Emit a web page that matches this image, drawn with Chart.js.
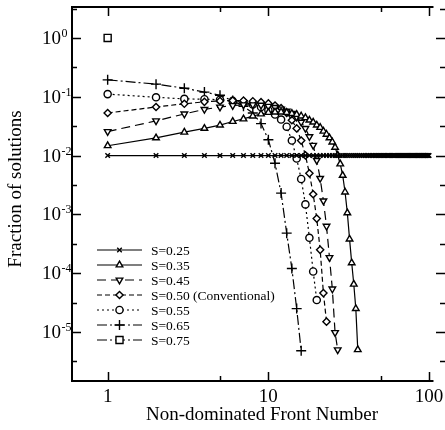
<!DOCTYPE html>
<html>
<head>
<meta charset="utf-8">
<script src="https://cdn.jsdelivr.net/npm/chart.js@4.4.0/dist/chart.umd.min.js"></script>
<style>
  html, body { margin: 0; padding: 0; background: #fff; }
</style>
</head>
<body>
<canvas id="chart" width="445" height="430"></canvas>
<script>
// Front numbers (x)
const fronts = [
  1, 2, 3, 4, 5, 6, 7, 8, 9, 10,
  11, 12, 13, 14, 15, 16, 17, 18, 19, 20,
  21, 22, 23, 24, 25, 26, 27, 28, 29, 30,
  31, 32, 33, 34, 35, 36, 37, 38, 39, 40,
  41, 42, 43, 44, 45, 46, 47, 48, 49, 50,
  51, 52, 53, 54, 55, 56, 57, 58, 59, 60,
  61, 62, 63, 64, 65, 66, 67, 68, 69, 70,
  71, 72, 73, 74, 75, 76, 77, 78, 79, 80,
  81, 82, 83, 84, 85, 86, 87, 88, 89, 90,
  91, 92, 93, 94, 95, 96, 97, 98, 99, 100
];

// Fraction of solutions in each front, one array per S
const s025 = [
  0.01, 0.01, 0.01, 0.01, 0.01, 0.01, 0.01, 0.01, 0.01, 0.01,
  0.01, 0.01, 0.01, 0.01, 0.01, 0.01, 0.01, 0.01, 0.01, 0.01,
  0.01, 0.01, 0.01, 0.01, 0.01, 0.01, 0.01, 0.01, 0.01, 0.01,
  0.01, 0.01, 0.01, 0.01, 0.01, 0.01, 0.01, 0.01, 0.01, 0.01,
  0.01, 0.01, 0.01, 0.01, 0.01, 0.01, 0.01, 0.01, 0.01, 0.01,
  0.01, 0.01, 0.01, 0.01, 0.01, 0.01, 0.01, 0.01, 0.01, 0.01,
  0.01, 0.01, 0.01, 0.01, 0.01, 0.01, 0.01, 0.01, 0.01, 0.01,
  0.01, 0.01, 0.01, 0.01, 0.01, 0.01, 0.01, 0.01, 0.01, 0.01,
  0.01, 0.01, 0.01, 0.01, 0.01, 0.01, 0.01, 0.01, 0.01, 0.01,
  0.01, 0.01, 0.01, 0.01, 0.01, 0.01, 0.01, 0.01, 0.01, 0.01
];
const s035 = [
  0.0147, 0.020, 0.025, 0.029, 0.033, 0.038, 0.042, 0.047, 0.051, 0.054,
  0.055, 0.055, 0.054, 0.052, 0.050, 0.047, 0.044, 0.040, 0.037, 0.033,
  0.030, 0.026, 0.023, 0.020, 0.017, 0.0138, 0.0102, 0.0072, 0.0046, 0.0024,
  0.00106, 0.00038, 0.00015, 0.000065, 0.000025, 0.000005
];
const s045 = [
  0.0256, 0.039, 0.051, 0.061, 0.067, 0.071, 0.073, 0.073, 0.072, 0.069,
  0.066, 0.062, 0.057, 0.052, 0.045, 0.037, 0.029, 0.021, 0.015, 0.0083,
  0.0041, 0.0017, 0.00063, 0.000185, 0.000054, 0.0000098, 0.000005
];
const s050 = [
  0.053, 0.067, 0.076, 0.082, 0.085, 0.086, 0.086, 0.084, 0.081, 0.077,
  0.071, 0.064, 0.053, 0.040, 0.029, 0.018, 0.0101, 0.005, 0.0022, 0.00085,
  0.00025, 0.000046, 0.000015
];
const s055 = [
  0.111, 0.098, 0.092, 0.091, 0.089, 0.085, 0.080, 0.074, 0.067, 0.059,
  0.050, 0.041, 0.031, 0.018, 0.0089, 0.0040, 0.00148, 0.00040, 0.000107, 0.000035
];
const s065 = [
  0.194, 0.164, 0.140, 0.120, 0.106, 0.086, 0.069, 0.053, 0.035, 0.0186,
  0.0074, 0.0023, 0.00048, 0.00012, 0.000025, 0.0000048
];
const s075 = [1.0];

const seriesLabels = ['S=0.25', 'S=0.35', 'S=0.45', 'S=0.50 (Conventional)', 'S=0.55', 'S=0.65', 'S=0.75'];
const xTickValues = [1, 10, 100];
const xMinorValues = [5, 50];
const yTickExponents = [0, -1, -2, -3, -4, -5];

const FONT = '"Liberation Serif", "Times New Roman", serif';

function toPoints(values) {
  return values.map((v, i) => ({ x: fronts[i], y: v }));
}

function series(label, values, style, radius, rotation, dash) {
  return {
    label: label,
    data: toPoints(values),
    borderColor: '#000',
    borderWidth: 1.2,
    borderDash: dash,
    backgroundColor: '#fff',
    pointStyle: style,
    pointRadius: radius,
    pointRotation: rotation,
    pointBorderColor: '#000',
    pointBackgroundColor: '#fff',
    pointBorderWidth: 1.4,
    tension: 0,
    fill: false
  };
}

const datasets = [
  series(seriesLabels[0], s025, 'crossRot', 3.2, 0, []),
  series(seriesLabels[1], s035, 'triangle', 3.8, 0, []),
  series(seriesLabels[2], s045, 'triangle', 3.8, 180, [9, 5]),
  series(seriesLabels[3], s050, 'rectRot', 3.6, 0, [5, 3]),
  series(seriesLabels[4], s055, 'circle', 3.6, 0, [2, 3]),
  series(seriesLabels[5], s065, 'cross', 5, 0, [10, 3, 2, 3]),
  series(seriesLabels[6], s075, 'rect', 5, 0, [10, 3, 2, 3])
];

// axes frame, inward ticks, labels, titles and the in-plot legend
const decorations = {
  id: 'decorations',
  afterDraw(chart) {
    const { ctx, chartArea: a, scales: { x, y } } = chart;
    const xEnd = x.getPixelForValue(106.5);
    ctx.save();
    ctx.strokeStyle = '#000';
    ctx.fillStyle = '#000';
    ctx.setLineDash([]);

    // frame
    ctx.lineWidth = 2;
    ctx.beginPath();
    ctx.moveTo(a.left, a.top - 1);
    ctx.lineTo(a.left, a.bottom + 1);
    ctx.moveTo(a.left - 1, a.top);
    ctx.lineTo(xEnd, a.top);
    ctx.moveTo(a.left - 1, a.bottom);
    ctx.lineTo(xEnd, a.bottom);
    ctx.stroke();

    // ticks
    ctx.lineWidth = 1.5;
    ctx.beginPath();
    xTickValues.concat(xMinorValues).forEach(v => {
      const len = xTickValues.includes(v) ? 9 : 5;
      const px = Math.round(x.getPixelForValue(v)) + 0.5;
      ctx.moveTo(px, a.bottom);
      ctx.lineTo(px, a.bottom - len);
      ctx.moveTo(px, a.top);
      ctx.lineTo(px, a.top + len);
    });
    yTickExponents.concat([1]).forEach(e => {
      [[Math.pow(10, e), 9], [Math.pow(10, e - 0.5), 5]].forEach(([v, len]) => {
        if (v > y.max || v < y.min) return;
        const py = Math.round(y.getPixelForValue(v)) + 0.5;
        ctx.moveTo(a.left, py);
        ctx.lineTo(a.left + len, py);
        ctx.moveTo(a.right, py);
        ctx.lineTo(a.right - len, py);
      });
    });
    ctx.stroke();

    // x tick labels
    ctx.font = '19px ' + FONT;
    ctx.textAlign = 'center';
    ctx.textBaseline = 'middle';
    xTickValues.forEach(v => {
      ctx.fillText(String(v), x.getPixelForValue(v), 397);
    });

    // y tick labels as 10 with a raised exponent
    yTickExponents.forEach(e => {
      const py = y.getPixelForValue(Math.pow(10, e));
      ctx.font = '19px ' + FONT;
      ctx.textAlign = 'right';
      ctx.textBaseline = 'middle';
      ctx.fillText('10', 61, py + 1);
      ctx.font = '12px ' + FONT;
      ctx.textAlign = 'left';
      ctx.textBaseline = 'alphabetic';
      ctx.fillText(String(e), 61.5, py - 1);
    });

    // axis titles
    ctx.font = '19px ' + FONT;
    ctx.textAlign = 'center';
    ctx.textBaseline = 'middle';
    ctx.fillText('Non-dominated Front Number', 262, 415);
    ctx.save();
    ctx.translate(16, 189);
    ctx.rotate(-Math.PI / 2);
    ctx.fillText('Fraction of solutions', 0, 0);
    ctx.restore();

    // legend
    const lx0 = 97, lx1 = 142, textX = 151, top = 250, rowH = 15;
    chart.data.datasets.forEach((ds, i) => {
      const ly = top + i * rowH;
      ctx.lineWidth = ds.borderWidth;
      ctx.setLineDash(ds.borderDash);
      ctx.beginPath();
      ctx.moveTo(lx0, ly);
      ctx.lineTo(lx1, ly);
      ctx.stroke();
      ctx.setLineDash([]);
      ctx.fillStyle = '#fff';
      ctx.lineWidth = ds.pointBorderWidth;
      Chart.helpers.drawPoint(ctx, {
        pointStyle: ds.pointStyle,
        radius: ds.pointRadius,
        rotation: ds.pointRotation,
        borderWidth: ds.pointBorderWidth
      }, (lx0 + lx1) / 2, ly);
      ctx.fillStyle = '#000';
      ctx.font = '13.5px ' + FONT;
      ctx.textAlign = 'left';
      ctx.textBaseline = 'middle';
      ctx.fillText(ds.label, textX, ly + 1);
    });

    ctx.restore();
  }
};

new Chart(document.getElementById('chart'), {
  type: 'line',
  data: { datasets: datasets },
  options: {
    responsive: false,
    animation: false,
    devicePixelRatio: 1,
    layout: { autoPadding: false, padding: { top: 7, right: 0, left: 0, bottom: 0 } },
    plugins: {
      legend: { display: false },
      tooltip: { enabled: false }
    },
    scales: {
      x: {
        type: 'logarithmic',
        min: 0.626,
        max: 125.6,
        grid: { display: false },
        border: { display: false },
        ticks: { display: false },
        afterFit: s => { s.height = 49; }
      },
      y: {
        type: 'logarithmic',
        min: 1.47e-6,
        max: 3.36,
        grid: { display: false },
        border: { display: false },
        ticks: { display: false },
        afterFit: s => { s.width = 72; }
      }
    }
  },
  plugins: [decorations]
});
</script>
</body>
</html>
